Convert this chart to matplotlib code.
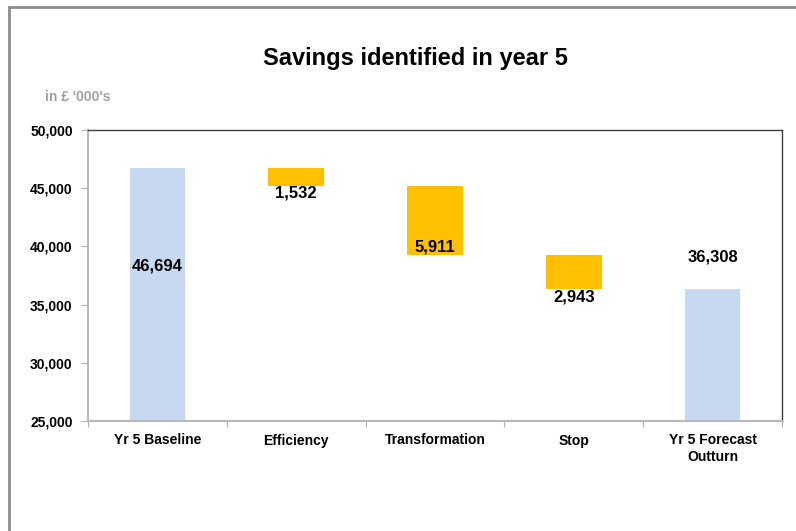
import matplotlib.pyplot as plt
from matplotlib.patches import Rectangle

plt.rcParams['font.family'] = ['Liberation Sans', 'DejaVu Sans']
plt.rcParams['font.weight'] = 'bold'

categories = ['Yr 5 Baseline', 'Efficiency', 'Transformation', 'Stop', 'Yr 5 Forecast\nOutturn']
baseline = 46694
savings = [1532, 5911, 2943]
outturn = 36308
label_pos = [38316, 44588, 39948, 35653, 39089]  # where Excel put the labels

blue = '#C6D9F1'
orange = '#FFC000'

fig = plt.figure(figsize=(7.96, 5.31), dpi=100)
ax = fig.add_axes([88 / 796, 1 - 421 / 531, 694 / 796, 291 / 531])

# outer chart border (cropped on right and bottom in the original)
fig.patches.append(Rectangle((9 / 796, -0.1), 1.2, 1 - 7 / 531 + 0.1, transform=fig.transFigure,
                             fill=False, edgecolor='#8C8C8C', linewidth=2))

ymin = 25000
w = 0.4
ax.bar(0, baseline - ymin, bottom=ymin, width=w, color=blue)
top = baseline
for i, s in enumerate(savings):
    ax.bar(i + 1, s, bottom=top - s, width=w, color=orange)
    top -= s
ax.bar(4, outturn - ymin, bottom=ymin, width=w, color=blue)

values = [baseline] + savings + [outturn]
for i, (v, yp) in enumerate(zip(values, label_pos)):
    ax.text(i, yp, f'{v:,}', ha='center', va='center', fontsize=12, fontweight='bold')

ax.set_xlim(-0.5, 4.5)
ax.set_ylim(ymin, 50000)
ax.set_yticks(range(25000, 50001, 5000))
ax.set_yticklabels([f'{t:,}' for t in range(25000, 50001, 5000)])
ax.set_xticks([i + 0.5 for i in range(-1, 5)], minor=False)
ax.set_xticklabels([])
ax.set_xticks(range(5), minor=True)
ax.set_xticklabels(categories, minor=True)
ax.tick_params(axis='x', which='major', length=4, color='#B0B0B0', direction='out')
ax.tick_params(axis='x', which='minor', length=0, pad=9, labelsize=10)
ax.tick_params(axis='y', length=5, color='#B0B0B0', labelsize=10, pad=6)

for side in ['left', 'bottom']:
    ax.spines[side].set_color('#B8B8B8')
    ax.spines[side].set_linewidth(1.5)
for side in ['top', 'right']:
    ax.spines[side].set_color('#404040')
    ax.spines[side].set_linewidth(1)

fig.text(415 / 796, 1 - 58 / 531, 'Savings identified in year 5', ha='center', va='center',
         fontsize=17, fontweight='bold')
fig.text(45 / 796, 1 - 97 / 531, "in £ '000's", ha='left', va='center',
         fontsize=10, fontweight='bold', color='#A0A0A0')

fig.savefig('out.png', dpi=100)
